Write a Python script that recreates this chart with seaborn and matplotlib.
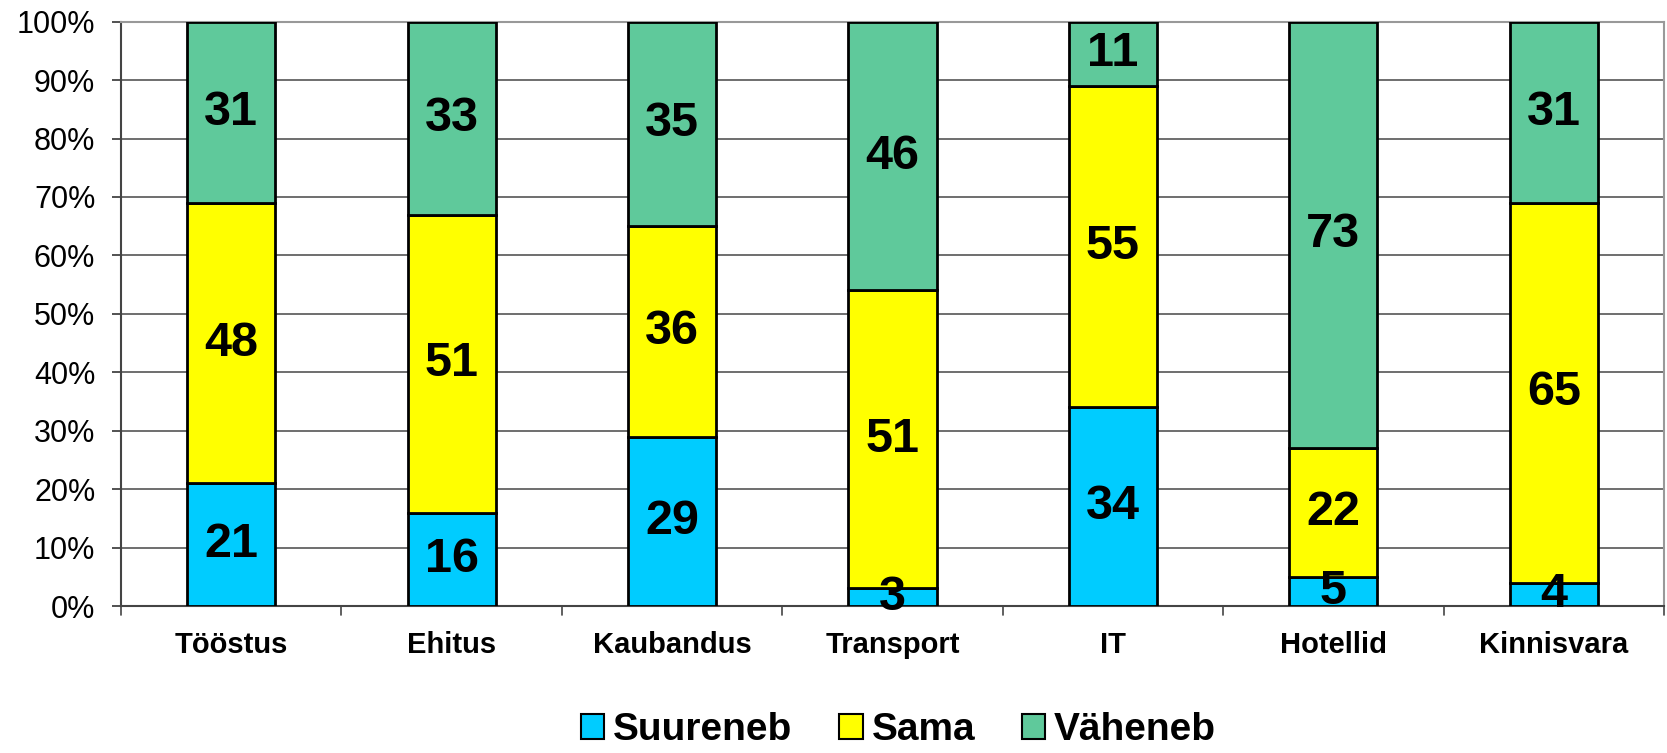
import pandas as pd
import seaborn as sns
import matplotlib.pyplot as plt
from matplotlib.patches import Patch

# andmed
valdkonnad = ["Tööstus", "Ehitus", "Kaubandus", "Transport", "IT", "Hotellid", "Kinnisvara"]
suureneb = [21, 16, 29, 3, 34, 5, 4]
sama = [48, 51, 36, 51, 55, 22, 65]
vaheneb = [31, 33, 35, 46, 11, 73, 31]
seeriad = ["Suureneb", "Sama", "Väheneb"]
varvid = ["#00CCFF", "#FFFF00", "#5FC99B"]

df = pd.DataFrame({"valdkond": valdkonnad, "Suureneb": suureneb, "Sama": sama, "Väheneb": vaheneb})

sns.set_style("white")
plt.rcParams['font.family'] = ['Liberation Sans', 'DejaVu Sans']
plt.rcParams['text.color'] = 'black'
plt.rcParams['xtick.color'] = 'black'
plt.rcParams['ytick.color'] = 'black'

fig = plt.figure(figsize=(16.67, 7.53), dpi=100)
ax = fig.add_axes([0.0726, 0.1952, 0.9256, 0.776])

# virnastatud tulbad
alus = [0] * len(valdkonnad)
for nimi, varv in zip(seeriad, varvid):
    sns.barplot(data=df, x="valdkond", y=nimi, order=valdkonnad, color=varv,
                width=0.4, bottom=alus, edgecolor="black", linewidth=2,
                saturation=1, ax=ax, zorder=3)
    for i, v in enumerate(df[nimi]):
        ax.text(i, alus[i] + v / 2, str(v), ha="center", va="center",
                fontsize=35, fontweight="bold", color="black", zorder=5)
    alus = [a + v for a, v in zip(alus, df[nimi])]

ax.set_xlim(-0.5, len(valdkonnad) - 0.5)
ax.set_ylim(0, 100)
ax.set_yticks(range(0, 101, 10))
ax.set_yticklabels([f"{t}%" for t in range(0, 101, 10)], fontsize=22)
ax.set_xticks(range(len(valdkonnad)))
ax.set_xticklabels(valdkonnad, fontsize=21, fontweight="bold")
ax.tick_params(axis="x", length=0, pad=18)
ax.tick_params(axis="y", length=6.5, width=1.2, color="#333333", direction="out", left=True, pad=12)
# kriipsud kategooriate vahel
for b in range(len(valdkonnad) + 1):
    ax.plot([b - 0.5, b - 0.5], [0, -0.015], transform=ax.get_xaxis_transform(),
            color="#444444", lw=1.2, clip_on=False)

ax.set_xlabel("")
ax.set_ylabel("")
ax.yaxis.grid(True, color="#555555", linewidth=1.2, zorder=0)
ax.set_axisbelow(True)
for s in ["top", "right"]:
    ax.spines[s].set_color("#999999")
    ax.spines[s].set_linewidth(1.5)
for s in ["left", "bottom"]:
    ax.spines[s].set_color("#444444")
    ax.spines[s].set_linewidth(1.5)

kasitsejad = [Patch(facecolor=c, edgecolor="black", linewidth=1.5, label=n) for n, c in zip(seeriad, varvid)]
fig.legend(handles=kasitsejad, loc="center", bbox_to_anchor=(0.539, 0.03), ncol=3,
           frameon=False, prop={"size": 28, "weight": "bold"}, borderpad=0,
           handlelength=0.6, handleheight=0.6, handletextpad=0.23, columnspacing=1.2)

plt.savefig("out.png", dpi=100)
